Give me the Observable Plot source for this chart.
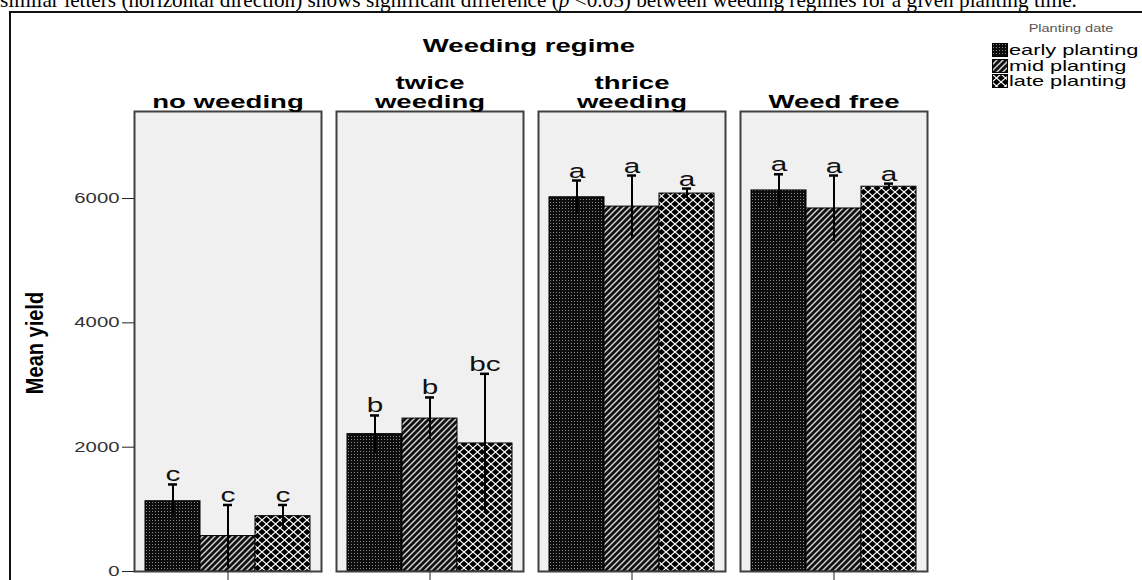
<!DOCTYPE html>
<html>
<head>
<meta charset="utf-8">
<script src="https://cdn.jsdelivr.net/npm/d3@7"></script>
<script src="https://cdn.jsdelivr.net/npm/@observablehq/plot@0.6"></script>
<style>
  html, body { margin: 0; padding: 0; background: #fff; width: 1142px; height: 580px; overflow: hidden; }
  body { position: relative; font-family: "Liberation Sans", Arial, sans-serif; color: #000; }
  #caption { position: absolute; left: 0; top: -10px; font-family: "Liberation Serif", "Times New Roman", serif; font-size: 18.5px; line-height: 20px; white-space: nowrap; }
  #border { position: absolute; left: 9px; top: 11px; width: 1300px; height: 800px; border: 2px solid #111; box-sizing: border-box; }
  #chart { position: absolute; left: 0; top: 0; }
  #title { position: absolute; left: 529px; top: 36px; font-weight: bold; font-size: 19px; line-height: 1; white-space: nowrap; transform: translateX(-50%) scaleX(1.45); transform-origin: center; }
  #ylabel { position: absolute; left: 35px; top: 343px; font-weight: bold; font-size: 20px; line-height: 1; white-space: nowrap; transform: translate(-50%, -50%) rotate(-90deg) scaleY(1.15); }
  #legend-title { position: absolute; left: 1071px; top: 24px; font-size: 10px; line-height: 1; color: #555; white-space: nowrap; transform: translateX(-50%) scaleX(1.45); }
  .lg-row { position: absolute; left: 992px; height: 14px; }
  .lg-row svg { position: absolute; left: 0; top: 0; }
  .lg-row span { position: absolute; left: 17px; top: -1px; font-size: 15px; line-height: 1; white-space: nowrap; transform: scaleX(1.45); transform-origin: left center; }
</style>
</head>
<body>
<svg width="0" height="0" style="position:absolute">
  <defs>
    <pattern id="pat-early" patternUnits="userSpaceOnUse" width="3" height="3">
      <rect width="3" height="3" fill="#0d0d0d"/>
      <rect x="1" y="1" width="1" height="1" fill="#8a8a8a"/>
    </pattern>
    <pattern id="pat-mid" patternUnits="userSpaceOnUse" width="6" height="6">
      <rect width="6" height="6" fill="#111"/>
      <path d="M-1,7 L7,-1 M-1,1 L1,-1 M5,7 L7,5" stroke="#d0d0d0" stroke-width="1.5"/>
    </pattern>
    <pattern id="pat-late" patternUnits="userSpaceOnUse" width="9" height="8">
      <rect width="9" height="8" fill="#000"/>
      <path d="M0,0 L9,8 M0,8 L9,0" stroke="#fff" stroke-width="1.2"/>
    </pattern>
  </defs>
</svg>
<div id="caption">similar letters (horizontal direction) shows significant difference (<i>p</i> &lt;0.05) between weeding regimes for a given planting time.</div>
<div id="border"></div>
<div id="chart"></div>
<div id="title">Weeding regime</div>
<div id="ylabel">Mean yield</div>
<div id="legend-title">Planting date</div>
<div id="legend"></div>
<script>
// ---- data ----
const regimes = ["no weeding", "twice weeding", "thrice weeding", "Weed free"];
const regimeLabels = ["no weeding", "twice\nweeding", "thrice\nweeding", "Weed free"];
const plantings = ["early planting", "mid planting", "late planting"];

const meanEarly = [1130, 2210, 6020, 6130];
const meanMid   = [570, 2460, 5870, 5840];
const meanLate  = [890, 2060, 6080, 6190];

const hiEarly = [1400, 2510, 6290, 6390];
const hiMid   = [1070, 2800, 6370, 6370];
const hiLate  = [1070, 3180, 6160, 6240];

const loEarly = [860, 1910, 5750, 5870];
const loMid   = [70, 2120, 5370, 5310];
const loLate  = [710, 940, 6000, 6140];

const lettersEarly = ["c", "b", "a", "a"];
const lettersMid   = ["c", "b", "a", "a"];
const lettersLate  = ["c", "bc", "a", "a"];

const yTicks = [0, 2000, 4000, 6000];
const patterns = ["url(#pat-early)", "url(#pat-mid)", "url(#pat-late)"];

// ---- table built from arrays ----
const means = [meanEarly, meanMid, meanLate];
const his = [hiEarly, hiMid, hiLate];
const los = [loEarly, loMid, loLate];
const letters = [lettersEarly, lettersMid, lettersLate];
const rows = [];
regimes.forEach((r, i) => {
  plantings.forEach((p, j) => {
    rows.push({regime: r, planting: p, mean: means[j][i], hi: his[j][i], lo: los[j][i], letter: letters[j][i], pat: patterns[j]});
  });
});

const chart = Plot.plot({
  width: 1142,
  height: 580,
  marginLeft: 133,
  marginRight: 215,
  marginTop: 111,
  marginBottom: 9,
  style: {fontFamily: '"Liberation Sans", Arial, sans-serif', background: "transparent", overflow: "visible", color: "#000"},
  fx: {domain: regimes, paddingInner: 0.075, paddingOuter: 0},
  x: {domain: plantings, paddingInner: 0, paddingOuter: 0.17, axis: null},
  y: {domain: [0, 7400]},
  color: {type: "identity"},
  marks: [
    Plot.frame({fill: "#f0f0f0", stroke: "none"}),
    Plot.barY(rows, {fx: "regime", x: "planting", y: "mean", fill: "pat", stroke: "#000", strokeWidth: 1}),
    Plot.frame({stroke: "#404040", strokeWidth: 2}),
    Plot.ruleX(rows, {fx: "regime", x: "planting", y1: "lo", y2: "hi", stroke: "#000", strokeWidth: 2}),
    Plot.tickY(rows, {fx: "regime", x: "planting", y: "hi", stroke: "#000", strokeWidth: 2.5, insetLeft: 23, insetRight: 23}),
    Plot.text(rows, {fx: "regime", x: "planting", y: "hi", text: "letter", fontSize: 20.5, lineAnchor: "bottom", dy: -3, fill: "#111"}),
    Plot.axisY({ticks: yTicks, tickSize: 12, tickPadding: 3, fontSize: 14, fill: "#333", stroke: "#222", tickFormat: d => String(d), label: null}),
    Plot.ruleX([0], {y1: 0, y2: 7400, stroke: "#111", strokeWidth: 1.5, facet: "exclude", fx: null}),
    Plot.axisFx({anchor: "top", tickSize: 0, tickPadding: 4, fontSize: 19, fontWeight: "bold", lineHeight: 1.0, tickFormat: r => regimeLabels[regimes.indexOf(r)], label: null}),
    Plot.axisFx({anchor: "bottom", tickSize: 9, tickFormat: () => "", label: null, stroke: "#222"})
  ]
});
document.getElementById("chart").appendChild(chart);

// horizontal stretch of chart texts, as in the original figure
chart.querySelectorAll("text").forEach(t => {
  const spans = t.querySelectorAll("tspan");
  const targets = spans.length ? Array.from(spans) : [t];
  targets.forEach(el => {
    const w = el.getComputedTextLength();
    if (w > 0) {
      el.setAttribute("textLength", (w * 1.45).toFixed(1));
      el.setAttribute("lengthAdjust", "spacingAndGlyphs");
    }
  });
});

// legend
const legend = document.getElementById("legend");
const rowTops = [43, 58.5, 74];
plantings.forEach((p, j) => {
  const row = document.createElement("div");
  row.className = "lg-row";
  row.style.top = rowTops[j] + "px";
  row.innerHTML = `<svg width="16" height="14"><rect x="0.5" y="0.5" width="15" height="13" fill="${patterns[j]}" stroke="#000"/></svg><span>${p}</span>`;
  legend.appendChild(row);
});

// fit the caption line to the width it occupies in the figure
const cap = document.getElementById("caption");
const cw = cap.getBoundingClientRect().width;
cap.style.fontSize = (18.5 * 1077 / cw).toFixed(2) + "px";
</script>
</body>
</html>
